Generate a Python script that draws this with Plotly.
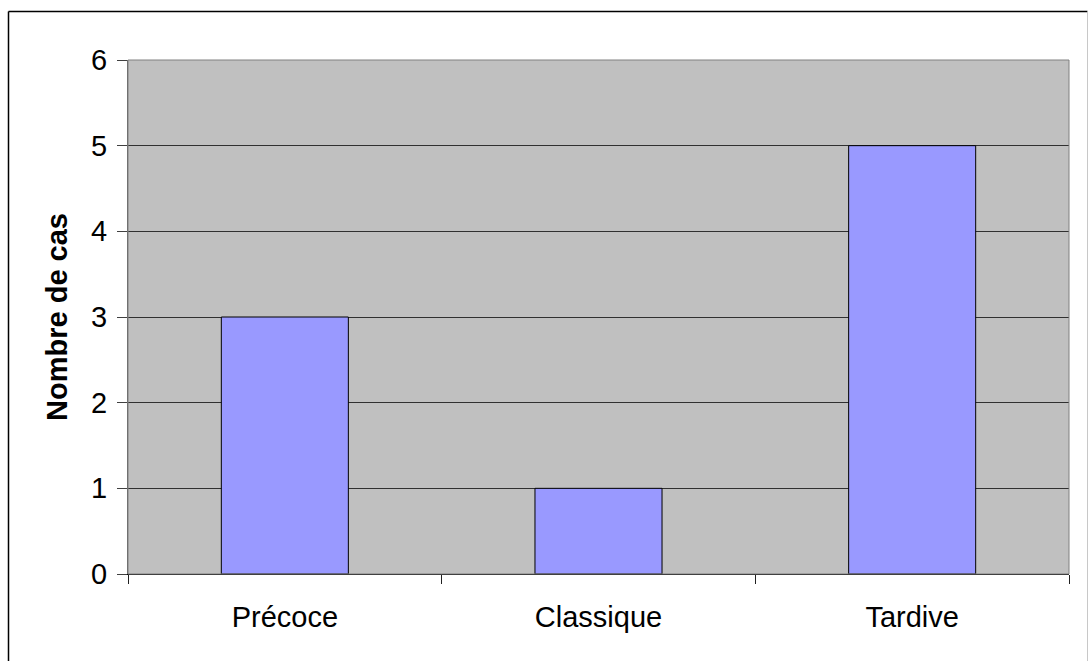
import plotly.graph_objects as go

categories = ["Précoce", "Classique", "Tardive"]
cases = [3, 1, 5]
y_ticks = [0, 1, 2, 3, 4, 5, 6]

W, H = 1089, 661
L, R, T, B = 128, 20, 60, 87
pw, ph = W - L - R, H - T - B


def px_x(x):
    return (x - L) / pw


def px_y(y):
    return (H - B - y) / ph


fig = go.Figure(
    go.Bar(
        x=categories,
        y=cases,
        marker=dict(color="#9999FF", line=dict(color="#000000", width=1)),
        hoverinfo="x+y",
    )
)

font = dict(family="Liberation Sans, Arial, sans-serif", size=29, color="#000000")

fig.update_layout(
    width=W,
    height=H,
    margin=dict(l=L, r=R, t=T, b=B, pad=0),
    paper_bgcolor="#FFFFFF",
    plot_bgcolor="#C0C0C0",
    bargap=0.595,
    showlegend=False,
    font=font,
    xaxis=dict(
        type="category",
        tickson="boundaries",
        ticks="outside",
        ticklen=9,
        tickcolor="#202020",
        showline=True,
        linecolor="#000000",
        linewidth=1,
        showgrid=False,
        tickfont=font,
        ticklabelstandoff=17,
    ),
    yaxis=dict(
        range=[0, 6],
        tickvals=y_ticks,
        ticks="outside",
        ticklen=10,
        tickcolor="#404040",
        showline=True,
        linecolor="#606060",
        linewidth=1,
        showgrid=True,
        gridcolor="#303030",
        gridwidth=1,
        zeroline=False,
        tickfont=font,
        ticklabelstandoff=4,
        title=dict(
            text="<b>Nombre de cas</b>",
            font=font,
            standoff=14,
        ),
    ),
    shapes=[
        # plot area frame
        dict(type="rect", xref="paper", yref="paper", x0=0, x1=1, y0=0, y1=1,
             line=dict(color="#808080", width=1), layer="above"),
        # outer chart border
        dict(type="line", xref="paper", yref="paper",
             x0=px_x(8.5), x1=px_x(8.5), y0=px_y(11.5), y1=px_y(680),
             line=dict(color="#000000", width=1.5)),
        dict(type="line", xref="paper", yref="paper",
             x0=px_x(8.5), x1=px_x(1087.5), y0=px_y(11.5), y1=px_y(11.5),
             line=dict(color="#000000", width=1.5)),
        dict(type="line", xref="paper", yref="paper",
             x0=px_x(1087.5), x1=px_x(1087.5), y0=px_y(11.5), y1=px_y(680),
             line=dict(color="#C8C8C8", width=1)),
    ],
)

fig.write_html("out.html")
